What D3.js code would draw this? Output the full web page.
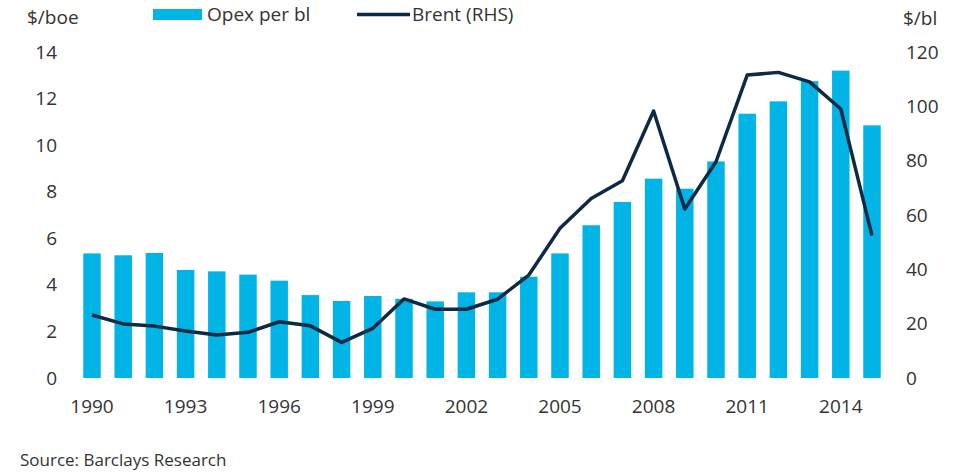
<!DOCTYPE html>
<html lang="en">
<head>
<meta charset="UTF-8">
<title>Opex per bl vs Brent</title>
<script src="https://d3js.org/d3.v7.min.js"></script>
<style>
  body { margin: 0; background: #fff; }
  text { font-family: "Open Sans", sans-serif; fill: #333; }
</style>
</head>
<body>
<script>
// data
var years = d3.range(1990, 2016);
var opex = [5.35, 5.27, 5.37, 4.64, 4.58, 4.44, 4.18, 3.56, 3.31, 3.52,
            3.40, 3.29, 3.68, 3.68, 4.35, 5.35, 6.56, 7.56, 8.56, 8.13,
            9.30, 11.35, 11.88, 12.75, 13.2, 10.85];
var brent = [23.2, 19.9, 19.1, 17.3, 15.8, 16.8, 20.7, 19.2, 13.1, 18.3,
             29.1, 25.3, 25.3, 29.0, 37.9, 55.1, 66.1, 72.6, 98.3, 62.2,
             79.6, 111.5, 112.5, 109.0, 99.0, 52.4];
var leftTicks = [0, 2, 4, 6, 8, 10, 12, 14];
var rightTicks = [0, 20, 40, 60, 80, 100, 120];
var xLabels = [1990, 1993, 1996, 1999, 2002, 2005, 2008, 2011, 2014];

var width = 975, height = 474;
var barColor = "#00b4e6", lineColor = "#0c2a44";

var svg = d3.select("body").append("svg")
    .attr("width", width)
    .attr("height", height);

var x = d3.scaleBand()
    .domain(years)
    .range([76.4, 887.6])
    .paddingInner(0.44)
    .paddingOuter(0.22);

var yL = d3.scaleLinear().domain([0, 14]).range([378, 52]);
var yR = d3.scaleLinear().domain([0, 120]).range([378, 52]);

// bars
svg.append("g")
    .selectAll("rect")
    .data(years)
    .enter().append("rect")
    .attr("x", function(d) { return x(d); })
    .attr("width", x.bandwidth())
    .attr("y", function(d, i) { return yL(opex[i]); })
    .attr("height", function(d, i) { return yL(0) - yL(opex[i]); })
    .style("fill", barColor);

// brent line
var line = d3.line()
    .x(function(d, i) { return x(years[i]) + x.bandwidth() / 2; })
    .y(function(d) { return yR(d); });

svg.append("path")
    .datum(brent)
    .attr("d", line)
    .style("fill", "none")
    .style("stroke", lineColor)
    .style("stroke-width", 3.5)
    .style("stroke-linejoin", "round");

// axes
var leftAxis = svg.append("g")
    .attr("transform", "translate(57,0)")
    .call(d3.axisLeft(yL).tickValues(leftTicks).tickSize(0).tickPadding(0));
var rightAxis = svg.append("g")
    .attr("transform", "translate(906,0)")
    .call(d3.axisRight(yR).tickValues(rightTicks).tickSize(0).tickPadding(0));
var bottomAxis = svg.append("g")
    .attr("transform", "translate(0,399)")
    .call(d3.axisBottom(x).tickValues(xLabels).tickSize(0).tickPadding(0));

[leftAxis, rightAxis, bottomAxis].forEach(function(a) {
    a.select(".domain").remove();
    a.selectAll("text").style("font-size", "19px").style("font-family", "'Open Sans', sans-serif").style("fill", "#333");
});
bottomAxis.selectAll("text").attr("dy", "0.71em");

// unit labels
svg.append("text").attr("x", 27).attr("y", 24).style("font-size", "19px").text("$/boe");
svg.append("text").attr("x", 903).attr("y", 25).style("font-size", "19px").text("$/bl");

// legend
svg.append("rect").attr("x", 153).attr("y", 9).attr("width", 49).attr("height", 11).style("fill", barColor);
svg.append("text").attr("x", 207).attr("y", 21).style("font-size", "19px").text("Opex per bl");
svg.append("line").attr("x1", 357).attr("x2", 410).attr("y1", 14.5).attr("y2", 14.5)
    .style("stroke", lineColor).style("stroke-width", 3.5);
svg.append("text").attr("x", 412).attr("y", 21).style("font-size", "19px").text("Brent (RHS)");

// source
svg.append("text").attr("x", 20).attr("y", 466).style("font-size", "17px").text("Source: Barclays Research");
</script>
</body>
</html>
